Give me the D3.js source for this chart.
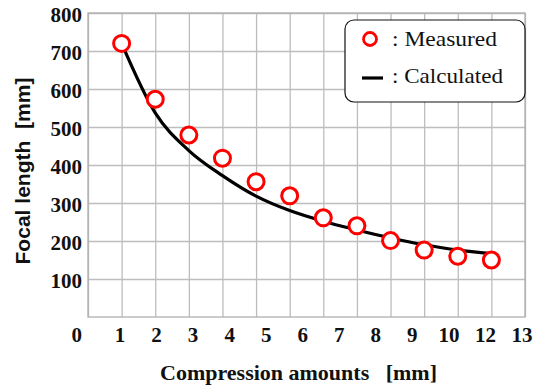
<!DOCTYPE html>
<html>
<head>
<meta charset="utf-8">
<script src="https://cdn.jsdelivr.net/npm/d3@7"></script>
<style>
  html, body { margin: 0; padding: 0; background: #fff; }
  svg { display: block; }
</style>
</head>
<body>
<div id="chart"></div>
<script>
// Measured points
const measuredX = [1, 2, 3, 4, 5, 6, 7, 8, 9, 10, 11, 12];
const measuredY = [720, 573, 479, 418, 356, 319, 261, 240, 201, 176, 160, 150];

// Calculated curve
const calcX = [1, 2, 3, 4, 5, 6, 7, 8, 9, 10, 11, 12];
const calcY = [720, 537, 438, 372, 318, 280, 252, 229, 208, 190, 176, 167];

// Tick labels (as printed in the figure)
const xTickLabels = ["0", "1", "2", "3", "4", "5", "6", "7", "8", "9", "10", "12", "13"];
const yTickValues = [100, 200, 300, 400, 500, 600, 700, 800];

const width = 542, height = 388;
const margin = { top: 13, right: 17, bottom: 71, left: 88 };
const chartW = width - margin.left - margin.right;
const chartH = height - margin.top - margin.bottom;

const svg = d3.select("#chart").append("svg")
  .attr("width", width)
  .attr("height", height);

const x = d3.scaleLinear().domain([0, 13]).range([margin.left, width - margin.right]);
const y = d3.scaleLinear().domain([0, 800]).range([height - margin.bottom, margin.top]);

const serif = "'Liberation Serif', 'Times New Roman', serif";

// Grid
svg.append("g")
  .attr("transform", `translate(0, ${height - margin.bottom})`)
  .call(d3.axisBottom(x).ticks(13).tickSize(-chartH).tickFormat(""))
  .call(g => g.select(".domain").remove())
  .selectAll("line")
  .attr("stroke", "#bdbdbd")
  .attr("stroke-width", 1.3);

svg.append("g")
  .attr("transform", `translate(${margin.left}, 0)`)
  .call(d3.axisLeft(y).tickValues(yTickValues).tickSize(-chartW).tickFormat(""))
  .call(g => g.select(".domain").remove())
  .selectAll("line")
  .attr("stroke", "#bdbdbd")
  .attr("stroke-width", 1.3);

// Frame
svg.append("rect")
  .attr("x", x(0))
  .attr("y", y(800))
  .attr("width", chartW)
  .attr("height", chartH)
  .attr("fill", "none")
  .attr("stroke", "#b0b0b0")
  .attr("stroke-width", 1.3);

// Y tick labels
const yAxis = svg.append("g")
  .attr("transform", `translate(${margin.left - 6}, 0)`)
  .call(d3.axisLeft(y).tickValues(yTickValues).tickSize(0).tickPadding(0));
yAxis.select(".domain").remove();
yAxis.selectAll("text")
  .attr("dy", "0.4em")
  .style("font-family", serif)
  .style("font-weight", "bold")
  .style("font-size", "21px")
  .attr("fill", "#111");

// X tick labels (evenly spaced under the axis, as in the figure)
const xLabelScale = d3.scalePoint()
  .domain(xTickLabels.slice(1))
  .range([120, 522]);

svg.append("g")
  .selectAll("text")
  .data(xTickLabels)
  .join("text")
  .attr("x", (d, i) => i === 0 ? margin.left - 6 : xLabelScale(d))
  .attr("y", 342)
  .attr("text-anchor", (d, i) => i === 0 ? "end" : "middle")
  .style("font-family", serif)
  .style("font-weight", "bold")
  .style("font-size", "21px")
  .attr("fill", "#111")
  .text(d => d);

// Axis titles
svg.append("text")
  .attr("x", 160)
  .attr("y", 380)
  .attr("textLength", 277)
  .attr("lengthAdjust", "spacingAndGlyphs")
  .style("font-family", serif)
  .style("font-weight", "bold")
  .style("font-size", "22px")
  .attr("fill", "#111")
  .text("Compression amounts\u00a0\u00a0 [mm]");

svg.append("text")
  .attr("transform", "translate(30, 171) rotate(-90)")
  .attr("text-anchor", "middle")
  .attr("textLength", 187)
  .attr("lengthAdjust", "spacingAndGlyphs")
  .style("font-family", "'Liberation Sans', Arial, sans-serif")
  .style("font-weight", "bold")
  .style("font-size", "21px")
  .attr("fill", "#111")
  .text("Focal length\u00a0 [mm]");

// Calculated curve
const calcData = calcX.map((v, i) => ({ x: v, y: calcY[i] }));
const line = d3.line()
  .x(d => x(d.x))
  .y(d => y(d.y))
  .curve(d3.curveMonotoneX);

svg.append("path")
  .datum(calcData)
  .attr("fill", "none")
  .attr("stroke", "#000")
  .attr("stroke-width", 3.2)
  .attr("d", line);

// Measured points
const measData = measuredX.map((v, i) => ({ x: v, y: measuredY[i] }));
svg.append("g")
  .selectAll("circle")
  .data(measData)
  .join("circle")
  .attr("cx", d => x(d.x))
  .attr("cy", d => y(d.y))
  .attr("r", 8)
  .attr("fill", "#fff")
  .attr("stroke", "#f00")
  .attr("stroke-width", 3);

// Legend
const legend = svg.append("g");
legend.append("rect")
  .attr("x", 345)
  .attr("y", 20)
  .attr("width", 180)
  .attr("height", 82)
  .attr("rx", 9)
  .attr("fill", "#fff")
  .attr("stroke", "#111")
  .attr("stroke-width", 1.2);

legend.append("circle")
  .attr("cx", 370)
  .attr("cy", 39)
  .attr("r", 6.5)
  .attr("fill", "#fff")
  .attr("stroke", "#f00")
  .attr("stroke-width", 2.8);

legend.append("line")
  .attr("x1", 362)
  .attr("x2", 383)
  .attr("y1", 78)
  .attr("y2", 78)
  .attr("stroke", "#000")
  .attr("stroke-width", 3.2);

legend.append("text")
  .attr("x", 392)
  .attr("y", 46)
  .attr("textLength", 105)
  .attr("lengthAdjust", "spacingAndGlyphs")
  .style("font-family", serif)
  .style("font-size", "21px")
  .attr("fill", "#111")
  .text(": Measured");

legend.append("text")
  .attr("x", 392)
  .attr("y", 83)
  .attr("textLength", 111)
  .attr("lengthAdjust", "spacingAndGlyphs")
  .style("font-family", serif)
  .style("font-size", "21px")
  .attr("fill", "#111")
  .text(": Calculated");
</script>
</body>
</html>
